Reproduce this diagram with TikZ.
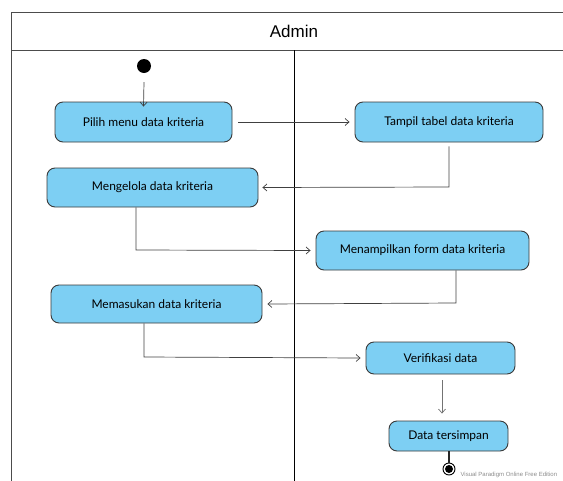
\documentclass[tikz,border=0pt]{standalone}
\usepackage{fontspec}
\setmainfont{Lato}
\newfontfamily\titlefont{Liberation Sans}
\usetikzlibrary{arrows.meta}
\definecolor{actfill}{HTML}{7DCFF3}
\definecolor{actdraw}{HTML}{3A3A3A}
\tikzset{
  x=1pt, y=-1pt,
  activity/.style={draw=actdraw, line width=0.9pt, fill=actfill, rounded corners=8pt,
    minimum height=#1, inner sep=0pt, font=\fontsize{12}{14}\selectfont},
  flow/.style={draw=black!75, line width=0.7pt, -{Straight Barb[length=4pt,width=7pt]}},
  plain/.style={draw=black!85, line width=1.1pt},
}
\begin{document}
\begin{tikzpicture}
\useasboundingbox (0,0) rectangle (563,480);
% swimlane frame
\draw[black!70, line width=0.8pt] (11,500) -- (11,12) -- (575,12);
\draw[black!70, line width=0.8pt] (11,50) -- (575,50);
\node[font=\titlefont\fontsize{17}{20}\selectfont] (title) at (294,31) {Admin};
\draw[black, line width=0.9pt] (294,50) -- (294,500);

% initial node
\node[circle, fill=black, minimum size=14pt, inner sep=0pt] (start) at (144,66) {};

% activities
\node[activity=40pt, minimum width=177pt] (a1) at (143.5,122) {Pilih menu data kriteria};
\node[activity=40pt, minimum width=188pt] (a2) at (449,122) {Tampil tabel data kriteria};
\node[activity=39pt, minimum width=211pt] (a3) at (152.5,187.5) {Mengelola data kriteria};
\node[activity=39pt, minimum width=213pt] (a4) at (422.5,250.5) {Menampilkan form data kriteria};
\node[activity=38pt, minimum width=211pt] (a5) at (156.5,304) {Memasukan data kriteria};
\node[activity=32pt, minimum width=149pt] (a6) at (440.5,358) {Verifikasi data};
\node[activity=30pt, minimum width=119pt] (a7) at (448.5,436) {Data tersimpan};

% final node
\node[circle, draw=black, line width=0.9pt, minimum size=12pt, inner sep=0pt] (end) at (449,469) {};
\node[circle, fill=black, minimum size=8pt, inner sep=0pt] (enddot) at (end.center) {};

% control flow
\draw[flow] ([yshift=-9pt]start.south) -- ([yshift=-5pt]a1.north);
\draw[flow] ([xshift=6pt]a1.east) -- ([xshift=-5pt]a2.west);
\coordinate (c1) at (449,187);
\draw[flow] ([yshift=-4pt]a2.south) -- (c1) -- ([xshift=4pt]a3.east);
\coordinate (c2) at (136,250);
\draw[flow] (a3.south -| c2) -- (c2) -- ([xshift=-5pt]a4.west);
\coordinate (c3) at (456,303);
\draw[flow] (a4.south -| c3) -- (c3) -- ([xshift=5pt]a5.east);
\coordinate (c4) at (144,357);
\draw[flow] (a5.south -| c4) -- (c4) -- ([xshift=-5pt]a6.west);
\draw[flow, draw=black!55] ([yshift=-6pt]a6.south -| 442,0) -- ([yshift=7pt]a7.north -| 442,0);
\draw[plain] (a7.south -| end) -- (end.north);

% edition watermark
\node[anchor=west, text=black!45, font=\fontsize{6}{7}\selectfont\titlefont] (mark) at (457,475) {Visual Paradigm Online Free Edition};
\end{tikzpicture}
\end{document}
